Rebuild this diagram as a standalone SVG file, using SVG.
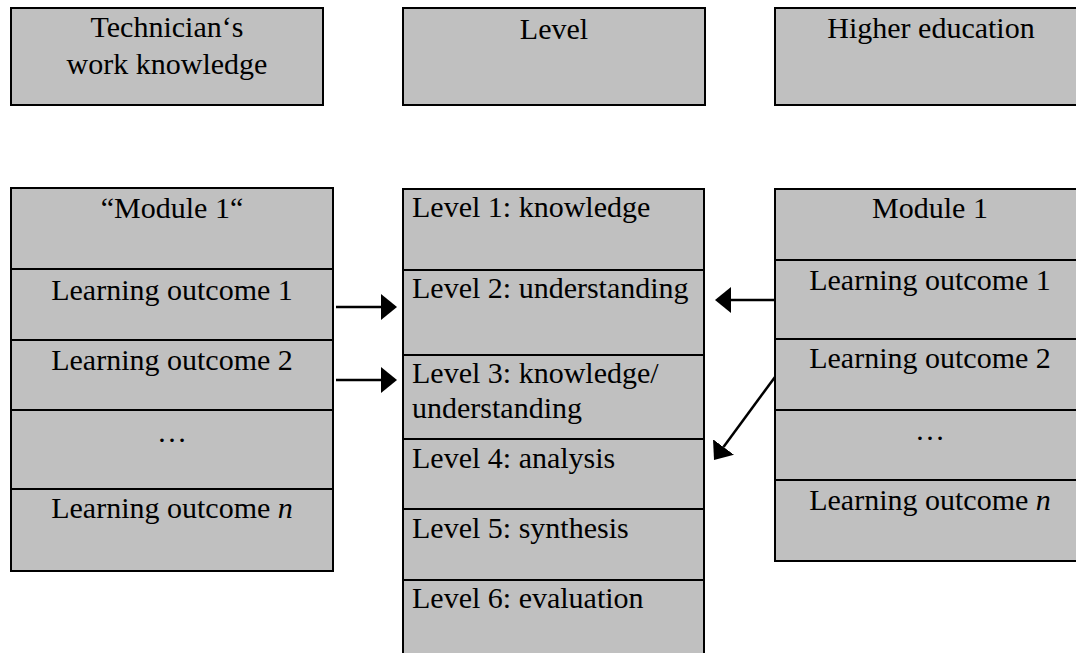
<svg xmlns="http://www.w3.org/2000/svg" width="1076" height="653" viewBox="0 0 1076 653">
  <style>
    .box { fill: #c0c0c0; stroke: #000; stroke-width: 2; }
    .div { stroke: #000; stroke-width: 2; }
    .t { font-family: "Liberation Serif", "Times New Roman", serif; font-size: 30px; fill: #000; }
    .c { text-anchor: middle; }
    .edge { stroke: #000; stroke-width: 2.5; fill: none; marker-end: url(#head); }
  </style>
  <defs>
    <marker id="head" markerUnits="userSpaceOnUse" viewBox="0 0 16 26" refX="0" refY="13" markerWidth="16" markerHeight="26" orient="auto">
      <path d="M0,0 L16,13 L0,26 Z" fill="#000"/>
    </marker>
  </defs>

  <!-- column headers -->
  <g id="header-technician">
    <rect class="box" x="11" y="8" width="312" height="97"/>
    <text class="t c" x="167" y="37">Technician‘s</text>
    <text class="t c" x="167" y="74">work knowledge</text>
  </g>
  <g id="header-level">
    <rect class="box" x="403" y="8" width="302" height="97"/>
    <text class="t c" x="554" y="39">Level</text>
  </g>
  <g id="header-higher-education">
    <rect class="box" x="775" y="8" width="312" height="97"/>
    <text class="t c" x="931" y="38">Higher education</text>
  </g>

  <!-- technician module -->
  <g id="technician-module">
    <rect class="box" x="11" y="188" width="322" height="383"/>
    <line class="div" x1="11" y1="269" x2="333" y2="269"/>
    <line class="div" x1="11" y1="340" x2="333" y2="340"/>
    <line class="div" x1="11" y1="410" x2="333" y2="410"/>
    <line class="div" x1="11" y1="489" x2="333" y2="489"/>
    <text class="t c" x="172" y="218">“Module 1“</text>
    <text class="t c" x="172" y="300">Learning outcome 1</text>
    <text class="t c" x="172" y="370">Learning outcome 2</text>
    <text class="t c" x="172" y="442">…</text>
    <text class="t c" x="172" y="518">Learning outcome <tspan font-style="italic">n</tspan></text>
  </g>

  <!-- levels -->
  <g id="levels">
    <rect class="box" x="403" y="189" width="301" height="480"/>
    <line class="div" x1="403" y1="270" x2="704" y2="270"/>
    <line class="div" x1="403" y1="355" x2="704" y2="355"/>
    <line class="div" x1="403" y1="439" x2="704" y2="439"/>
    <line class="div" x1="403" y1="509" x2="704" y2="509"/>
    <line class="div" x1="403" y1="580" x2="704" y2="580"/>
    <text class="t" x="412" y="217">Level 1: knowledge</text>
    <text class="t" x="412" y="298">Level 2: understanding</text>
    <text class="t" x="412" y="383">Level 3: knowledge/</text>
    <text class="t" x="412" y="418">understanding</text>
    <text class="t" x="412" y="468">Level 4: analysis</text>
    <text class="t" x="412" y="538">Level 5: synthesis</text>
    <text class="t" x="412" y="608">Level 6: evaluation</text>
  </g>

  <!-- higher education module -->
  <g id="higher-education-module">
    <rect class="box" x="775" y="189" width="310" height="372"/>
    <line class="div" x1="775" y1="260" x2="1085" y2="260"/>
    <line class="div" x1="775" y1="339" x2="1085" y2="339"/>
    <line class="div" x1="775" y1="410" x2="1085" y2="410"/>
    <line class="div" x1="775" y1="480" x2="1085" y2="480"/>
    <text class="t c" x="930" y="218">Module 1</text>
    <text class="t c" x="930" y="290">Learning outcome 1</text>
    <text class="t c" x="930" y="368">Learning outcome 2</text>
    <text class="t c" x="930" y="440">…</text>
    <text class="t c" x="930" y="510">Learning outcome <tspan font-style="italic">n</tspan></text>
  </g>

  <!-- connectors -->
  <g id="connectors">
    <line class="edge" x1="336" y1="307" x2="381" y2="307"/>
    <line class="edge" x1="336" y1="380" x2="381" y2="380"/>
    <line class="edge" x1="775" y1="300" x2="731" y2="300"/>
    <line class="edge" x1="775" y1="377" x2="723.5" y2="447"/>
  </g>
</svg>
